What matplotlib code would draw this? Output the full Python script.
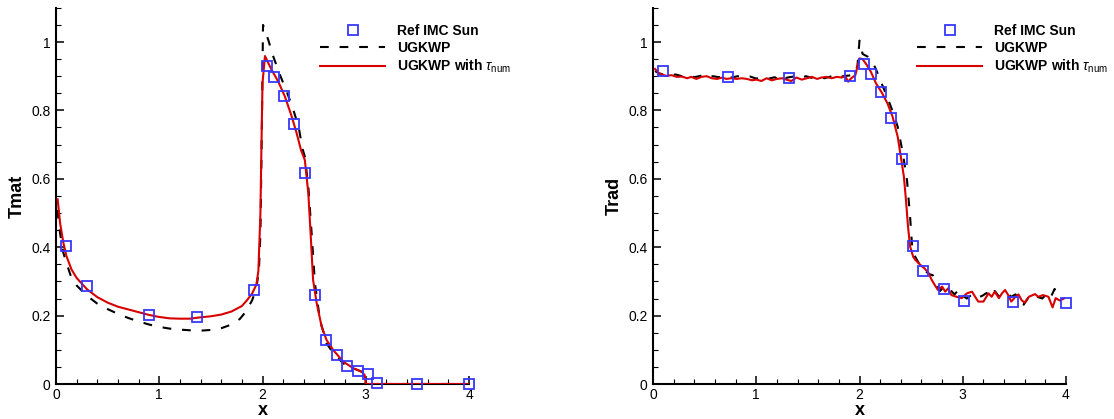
import matplotlib
matplotlib.use("Agg")
import matplotlib.pyplot as plt
from matplotlib.ticker import MultipleLocator
import numpy as np

plt.rcParams['font.family'] = ['Liberation Sans', 'DejaVu Sans']
plt.rcParams['mathtext.fontset'] = 'custom'
plt.rcParams['mathtext.rm'] = 'Liberation Sans'
plt.rcParams['mathtext.it'] = 'Liberation Sans:italic'

# ---------------- material temperature ----------------
tmat_ref_x = [0.094, 0.297, 0.90, 1.362, 1.914, 2.04, 2.11, 2.208, 2.308, 2.408,
              2.512, 2.615, 2.718, 2.822, 2.922, 3.022, 3.109, 3.493, 4.0]
tmat_ref_y = [0.403, 0.287, 0.201, 0.195, 0.275, 0.929, 0.898, 0.843, 0.760, 0.617,
              0.260, 0.130, 0.085, 0.054, 0.038, 0.030, 0.002, 0.0, 0.0]

tmat_ugkwp = [(0.013, 0.509), (0.04, 0.44), (0.07, 0.385), (0.10, 0.355), (0.15, 0.31),
              (0.20, 0.288), (0.30, 0.258), (0.40, 0.235), (0.50, 0.219), (0.60, 0.205),
              (0.70, 0.193), (0.80, 0.183), (0.90, 0.174), (1.00, 0.167), (1.10, 0.162),
              (1.20, 0.159), (1.30, 0.157), (1.40, 0.156), (1.50, 0.158), (1.60, 0.163),
              (1.70, 0.174), (1.78, 0.19), (1.84, 0.212), (1.90, 0.245), (1.94, 0.28),
              (1.965, 0.33), (1.98, 0.44), (1.993, 0.73), (2.005, 1.05), (2.056, 1.006),
              (2.105, 0.957), (2.17, 0.903), (2.235, 0.855), (2.30, 0.80), (2.35, 0.752),
              (2.386, 0.689), (2.41, 0.665), (2.444, 0.577), (2.476, 0.44), (2.508, 0.294),
              (2.557, 0.187), (2.62, 0.119), (2.686, 0.09), (2.783, 0.06), (2.88, 0.046),
              (2.96, 0.036), (2.993, 0.026), (3.0, 0.0), (4.0, 0.0)]

tmat_ugkwp_tau = [(0.016, 0.54), (0.04, 0.47), (0.07, 0.415), (0.10, 0.375), (0.15, 0.335),
                  (0.20, 0.31), (0.30, 0.277), (0.40, 0.254), (0.50, 0.238), (0.60, 0.226),
                  (0.70, 0.218), (0.80, 0.210), (0.90, 0.202), (1.00, 0.196), (1.10, 0.192),
                  (1.20, 0.191), (1.30, 0.191), (1.40, 0.195), (1.50, 0.198), (1.60, 0.203),
                  (1.70, 0.212), (1.80, 0.228), (1.85, 0.245), (1.90, 0.265), (1.94, 0.29),
                  (1.96, 0.33), (1.98, 0.50), (1.99, 0.70), (2.0, 0.88), (2.024, 0.959),
                  (2.089, 0.918), (2.153, 0.884), (2.218, 0.840), (2.283, 0.782),
                  (2.331, 0.733), (2.373, 0.684), (2.41, 0.655), (2.444, 0.557),
                  (2.466, 0.44), (2.49, 0.304), (2.525, 0.236), (2.573, 0.168),
                  (2.62, 0.129), (2.686, 0.099), (2.783, 0.065), (2.88, 0.046),
                  (2.96, 0.036), (2.99, 0.026), (3.0, 0.0), (4.0, 0.0)]

# ---------------- radiation temperature ----------------
trad_ref_x = [0.096, 0.728, 1.320, 1.908, 2.04, 2.109, 2.209, 2.308, 2.407, 2.516,
              2.612, 2.814, 3.015, 3.487, 3.997]
trad_ref_y = [0.916, 0.899, 0.895, 0.901, 0.937, 0.907, 0.855, 0.779, 0.657, 0.403,
              0.331, 0.278, 0.242, 0.240, 0.238]

trad_ugkwp = [(0.02, 0.915), (0.06, 0.908), (0.10, 0.905), (0.16, 0.902), (0.22, 0.905),
              (0.28, 0.900), (0.34, 0.903), (0.40, 0.897), (0.46, 0.901), (0.52, 0.895),
              (0.58, 0.900), (0.64, 0.897), (0.70, 0.902), (0.76, 0.896), (0.82, 0.900),
              (0.88, 0.896), (0.94, 0.899), (1.00, 0.893), (1.06, 0.898), (1.12, 0.893),
              (1.18, 0.897), (1.24, 0.884), (1.30, 0.896), (1.36, 0.899), (1.42, 0.893),
              (1.48, 0.900), (1.54, 0.895), (1.60, 0.899), (1.66, 0.894), (1.72, 0.899),
              (1.78, 0.893), (1.84, 0.900), (1.90, 0.902), (1.95, 0.905), (1.98, 0.93),
              (2.00, 1.004), (2.03, 0.965), (2.08, 0.957), (2.12, 0.945), (2.16, 0.92),
              (2.20, 0.889), (2.24, 0.86), (2.28, 0.83), (2.33, 0.79), (2.37, 0.752),
              (2.42, 0.674), (2.46, 0.596), (2.49, 0.489), (2.51, 0.40), (2.54, 0.372),
              (2.58, 0.35), (2.63, 0.333), (2.67, 0.322), (2.71, 0.318), (2.75, 0.29),
              (2.78, 0.272), (2.82, 0.285), (2.88, 0.275), (2.92, 0.262), (2.96, 0.275),
              (3.00, 0.258), (3.04, 0.250), (3.09, 0.262), (3.14, 0.252), (3.19, 0.258),
              (3.23, 0.266), (3.27, 0.255), (3.31, 0.272), (3.35, 0.256), (3.40, 0.262),
              (3.43, 0.266), (3.47, 0.255), (3.51, 0.262), (3.55, 0.248), (3.59, 0.232),
              (3.63, 0.250), (3.68, 0.262), (3.72, 0.255), (3.77, 0.250), (3.81, 0.263),
              (3.85, 0.252), (3.89, 0.278), (3.91, 0.262), (3.95, 0.252)]

trad_ugkwp_tau = [(0.02, 0.921), (0.05, 0.911), (0.08, 0.905), (0.13, 0.901), (0.18, 0.903),
                  (0.23, 0.898), (0.28, 0.899), (0.33, 0.894), (0.37, 0.898), (0.42, 0.892),
                  (0.47, 0.898), (0.52, 0.900), (0.57, 0.894), (0.62, 0.892), (0.67, 0.896),
                  (0.71, 0.892), (0.76, 0.894), (0.81, 0.892), (0.86, 0.894), (0.91, 0.892),
                  (0.96, 0.888), (1.00, 0.890), (1.05, 0.886), (1.10, 0.894), (1.15, 0.888),
                  (1.20, 0.892), (1.25, 0.894), (1.29, 0.890), (1.34, 0.886), (1.39, 0.896),
                  (1.44, 0.890), (1.49, 0.894), (1.54, 0.898), (1.59, 0.892), (1.63, 0.896),
                  (1.68, 0.898), (1.73, 0.894), (1.78, 0.898), (1.83, 0.896), (1.86, 0.901),
                  (1.89, 0.884), (1.92, 0.894), (1.96, 0.903), (1.98, 0.928), (2.00, 0.952),
                  (2.03, 0.950), (2.07, 0.933), (2.11, 0.913), (2.16, 0.879), (2.22, 0.850),
                  (2.27, 0.821), (2.32, 0.782), (2.37, 0.723), (2.40, 0.665), (2.43, 0.606),
                  (2.45, 0.538), (2.47, 0.460), (2.49, 0.402), (2.52, 0.372), (2.54, 0.363),
                  (2.59, 0.348), (2.63, 0.338), (2.67, 0.324), (2.70, 0.304), (2.73, 0.289),
                  (2.76, 0.275), (2.80, 0.285), (2.83, 0.270), (2.86, 0.280), (2.89, 0.260),
                  (2.94, 0.255), (2.99, 0.251), (3.04, 0.265), (3.09, 0.270), (3.12, 0.255),
                  (3.15, 0.241), (3.20, 0.241), (3.25, 0.265), (3.28, 0.255), (3.31, 0.270),
                  (3.35, 0.251), (3.38, 0.265), (3.41, 0.275), (3.44, 0.260), (3.47, 0.241),
                  (3.51, 0.255), (3.54, 0.262), (3.57, 0.245), (3.60, 0.238), (3.64, 0.255),
                  (3.70, 0.263), (3.73, 0.255), (3.78, 0.260), (3.83, 0.255), (3.87, 0.224),
                  (3.90, 0.251), (3.94, 0.244), (3.98, 0.250)]

ylabels = ['Tmat', 'Trad']
legend_labels = ['Ref IMC Sun', 'UGKWP', r'UGKWP with $\tau_{\mathrm{num}}$']

BLUE = '#3737ff'
RED = '#d80000'

fig = plt.figure(figsize=(11.14, 4.19), dpi=100)
W, H = 1114.0, 419.0
ax_w = 413 / W
ax_h = 1.1 * 342 / H
bottom = (H - 384) / H
ax1 = fig.add_axes([56 / W, bottom, ax_w, ax_h])
ax2 = fig.add_axes([653 / W, bottom, ax_w, ax_h])

panels = [
    (ax1, tmat_ref_x, tmat_ref_y, tmat_ugkwp, tmat_ugkwp_tau, ylabels[0]),
    (ax2, trad_ref_x, trad_ref_y, trad_ugkwp, trad_ugkwp_tau, ylabels[1]),
]

for ax, rx, ry, dashed, solid, ylab in panels:
    dx, dy = zip(*dashed)
    sx, sy = zip(*solid)
    h_ref, = ax.plot(rx, ry, linestyle='none', marker='s', markersize=7,
                     markerfacecolor='none', markeredgecolor=BLUE,
                     markeredgewidth=1.3, clip_on=False, zorder=4)
    h_d, = ax.plot(dx, dy, color='black', lw=1.5, linestyle=(0, (4.2, 5.2)),
                   zorder=3)
    h_s, = ax.plot(sx, sy, color=RED, lw=1.5, zorder=3.5)

    ax.set_xlim(0, 4)
    ax.set_ylim(0, 1.1)
    for side in ('top', 'right'):
        ax.spines[side].set_visible(False)
    for side in ('left', 'bottom'):
        ax.spines[side].set_linewidth(1.5)
    ax.xaxis.set_major_locator(MultipleLocator(1))
    ax.xaxis.set_minor_locator(MultipleLocator(0.2))
    ax.yaxis.set_major_locator(MultipleLocator(0.2))
    ax.yaxis.set_minor_locator(MultipleLocator(0.05))
    ax.set_yticks([0, 0.2, 0.4, 0.6, 0.8, 1.0])
    ax.set_yticklabels(['0', '0.2', '0.4', '0.6', '0.8', '1'])
    ax.tick_params(which='both', direction='in', top=False, right=False,
                   labelsize=10)
    ax.tick_params(which='major', length=6, width=1.1)
    ax.tick_params(which='minor', length=3.8, width=0.8)
    ax.tick_params(axis='x', which='major', pad=3)
    ax.tick_params(axis='y', which='major', pad=4)
    ax.set_xlabel('x', fontsize=13, fontweight='bold', labelpad=0)
    ax.set_ylabel(ylab, fontsize=13, fontweight='bold', labelpad=4)

    leg = ax.legend([h_ref, h_d, h_s], legend_labels, loc='upper left',
                    bbox_to_anchor=(0.639, 0.956), frameon=False,
                    borderpad=0, borderaxespad=0, handlelength=4.7,
                    handletextpad=0.88, labelspacing=0.19, numpoints=1,
                    prop={'size': 10, 'weight': 'bold'})
    leg.set_clip_on(False)

fig.savefig('out.png', dpi=100)
